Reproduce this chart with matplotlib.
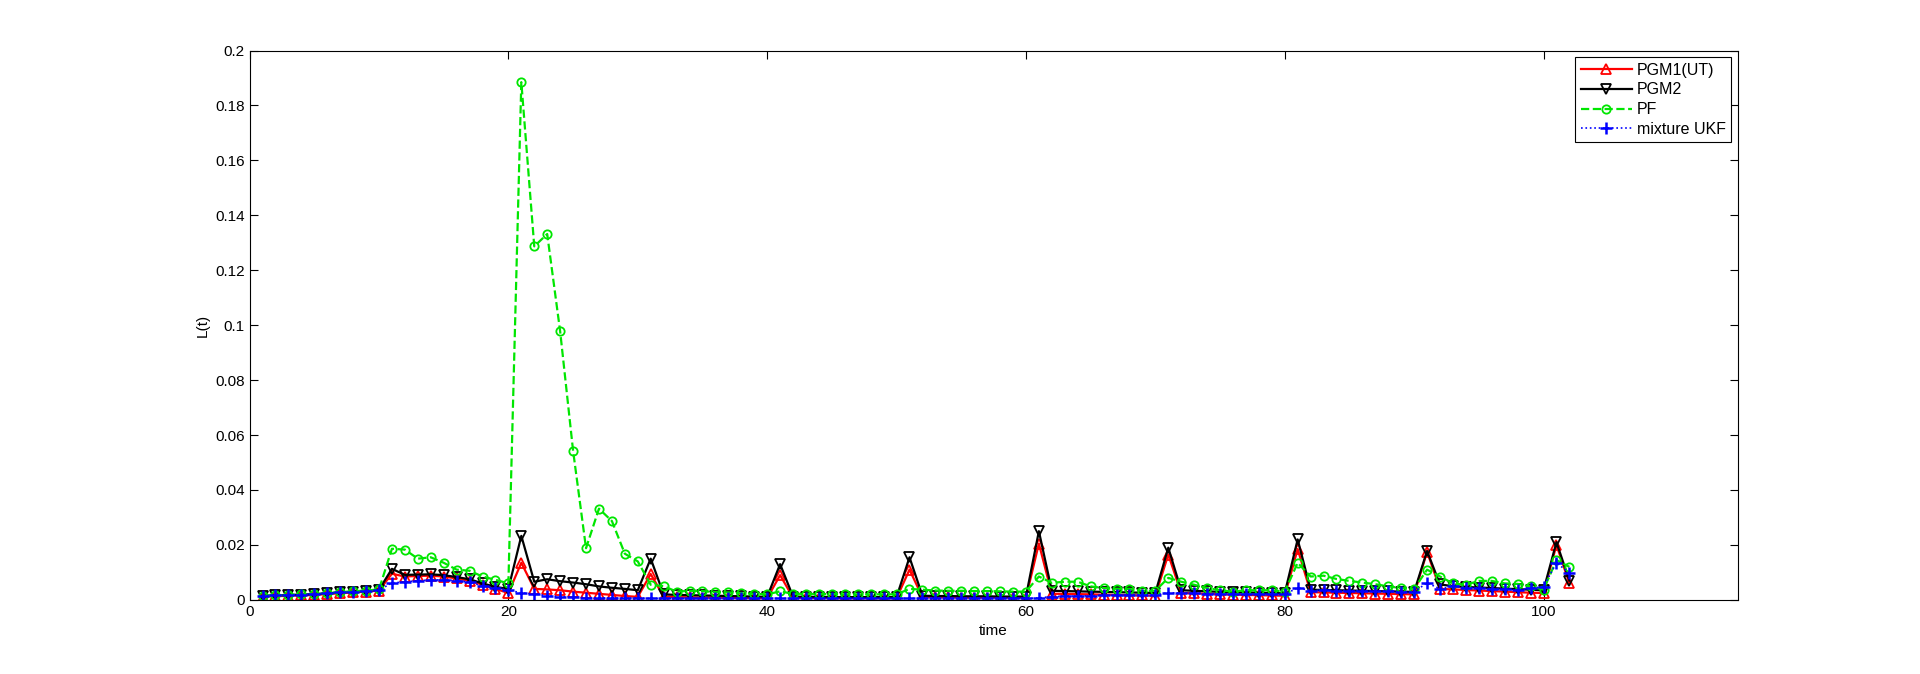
import numpy as np
import matplotlib.pyplot as plt

plt.rcParams['font.family'] = ['Liberation Sans', 'DejaVu Sans']

t = np.arange(1, 103)

pgm1 = [0.0012, 0.0013, 0.0015, 0.0016, 0.0018, 0.0021, 0.0024, 0.0027, 0.0030, 0.0034,
        0.0095, 0.0085, 0.0087, 0.0088, 0.0085, 0.0078, 0.0070, 0.0055, 0.0040, 0.0025,
        0.0135, 0.0040, 0.0038, 0.0035, 0.0030, 0.0026, 0.0022, 0.0018, 0.0014, 0.0011,
        0.0094, 0.0012, 0.0010, 0.0009, 0.0008, 0.0008, 0.0007, 0.0007, 0.0006, 0.0006,
        0.0090, 0.0008, 0.0007, 0.0007, 0.0006, 0.0006, 0.0006, 0.0006, 0.0006, 0.0006,
        0.0110, 0.0010, 0.0009, 0.0009, 0.0008, 0.0008, 0.0008, 0.0008, 0.0008, 0.0008,
        0.0205, 0.0022, 0.0022, 0.0021, 0.0020, 0.0019, 0.0018, 0.0017, 0.0016, 0.0015,
        0.0165, 0.0025, 0.0024, 0.0022, 0.0020, 0.0019, 0.0018, 0.0017, 0.0016, 0.0015,
        0.0185, 0.0028, 0.0027, 0.0026, 0.0025, 0.0024, 0.0023, 0.0022, 0.0021, 0.0020,
        0.0175, 0.0040, 0.0038, 0.0036, 0.0034, 0.0032, 0.0030, 0.0028, 0.0026, 0.0025,
        0.0200, 0.0060]

pgm2 = [0.0015, 0.0016, 0.0018, 0.0019, 0.0021, 0.0024, 0.0027, 0.0030, 0.0033, 0.0037,
        0.0113, 0.0091, 0.0092, 0.0093, 0.0090, 0.0083, 0.0075, 0.0060, 0.0047, 0.0040,
        0.0233, 0.0066, 0.0075, 0.0068, 0.0063, 0.0057, 0.0049, 0.0044, 0.0040, 0.0035,
        0.0150, 0.0020, 0.0018, 0.0017, 0.0016, 0.0015, 0.0014, 0.0013, 0.0012, 0.0011,
        0.0130, 0.0012, 0.0011, 0.0011, 0.0010, 0.0010, 0.0010, 0.0010, 0.0010, 0.0010,
        0.0155, 0.0015, 0.0014, 0.0014, 0.0013, 0.0013, 0.0013, 0.0012, 0.0012, 0.0012,
        0.0250, 0.0033, 0.0032, 0.0031, 0.0030, 0.0029, 0.0028, 0.0027, 0.0026, 0.0025,
        0.0190, 0.0035, 0.0033, 0.0031, 0.0029, 0.0028, 0.0027, 0.0026, 0.0025, 0.0024,
        0.0220, 0.0037, 0.0036, 0.0035, 0.0034, 0.0033, 0.0032, 0.0031, 0.0030, 0.0029,
        0.0178, 0.0056, 0.0050, 0.0047, 0.0045, 0.0043, 0.0041, 0.0039, 0.0037, 0.0035,
        0.0210, 0.0070]

pf = [0.0015, 0.0016, 0.0018, 0.0020, 0.0022, 0.0025, 0.0028, 0.0031, 0.0034, 0.0038,
      0.0186, 0.0183, 0.0150, 0.0155, 0.0135, 0.0110, 0.0106, 0.0085, 0.0073, 0.0060,
      0.1885, 0.1287, 0.1332, 0.0978, 0.0543, 0.0188, 0.0332, 0.0287, 0.0168, 0.0140,
      0.0055, 0.0050, 0.0030, 0.0033, 0.0032, 0.0028, 0.0027, 0.0024, 0.0022, 0.0020,
      0.0031, 0.0022, 0.0022, 0.0021, 0.0021, 0.0020, 0.0020, 0.0020, 0.0020, 0.0020,
      0.0040, 0.0037, 0.0034, 0.0033, 0.0033, 0.0032, 0.0032, 0.0031, 0.0030, 0.0030,
      0.0085, 0.0062, 0.0066, 0.0066, 0.0049, 0.0043, 0.0040, 0.0040, 0.0033, 0.0033,
      0.0080, 0.0066, 0.0055, 0.0043, 0.0035, 0.0030, 0.0035, 0.0035, 0.0035, 0.0030,
      0.0135, 0.0085, 0.0088, 0.0076, 0.0069, 0.0063, 0.0057, 0.0049, 0.0043, 0.0040,
      0.0110, 0.0085, 0.0060, 0.0055, 0.0069, 0.0069, 0.0060, 0.0058, 0.0049, 0.0037,
      0.0145, 0.0120]

ukf = [0.0015, 0.0016, 0.0018, 0.0019, 0.0021, 0.0024, 0.0027, 0.0029, 0.0032, 0.0035,
       0.0062, 0.0065, 0.0070, 0.0072, 0.0073, 0.0070, 0.0065, 0.0050, 0.0043, 0.0036,
       0.0025, 0.0022, 0.0015, 0.0012, 0.0010, 0.0008, 0.0007, 0.0006, 0.0006, 0.0006,
       0.0005, 0.0005, 0.0005, 0.0005, 0.0005, 0.0005, 0.0005, 0.0005, 0.0005, 0.0005,
       0.0005, 0.0005, 0.0005, 0.0005, 0.0005, 0.0005, 0.0005, 0.0005, 0.0005, 0.0005,
       0.0005, 0.0005, 0.0005, 0.0005, 0.0005, 0.0005, 0.0005, 0.0005, 0.0005, 0.0005,
       0.0007, 0.0012, 0.0013, 0.0014, 0.0015, 0.0016, 0.0017, 0.0018, 0.0018, 0.0018,
       0.0026, 0.0025, 0.0024, 0.0023, 0.0022, 0.0022, 0.0021, 0.0021, 0.0020, 0.0020,
       0.0044, 0.0034, 0.0035, 0.0034, 0.0034, 0.0033, 0.0032, 0.0031, 0.0030, 0.0029,
       0.0062, 0.0040, 0.0050, 0.0045, 0.0043, 0.0040, 0.0038, 0.0036, 0.0042, 0.0048,
       0.0135, 0.0098]

series_names = ['PGM1(UT)', 'PGM2', 'PF', 'mixture UKF']
yticks = [0, 0.02, 0.04, 0.06, 0.08, 0.1, 0.12, 0.14, 0.16, 0.18, 0.2]
ytick_labels = ['0', '0.02', '0.04', '0.06', '0.08', '0.1', '0.12', '0.14', '0.16', '0.18', '0.2']
xticks = [0, 20, 40, 60, 80, 100]

fig = plt.figure(figsize=(19.2, 6.74), dpi=100)
ax = fig.add_axes([0.13, 0.11, 0.775, 0.815])

ax.plot(t, pgm1, '-^', color='red', lw=1.6, ms=7, mfc='none', mew=1.3, label=series_names[0])
ax.plot(t, pgm2, '-v', color='black', lw=1.6, ms=7, mfc='none', mew=1.3, label=series_names[1])
ax.plot(t, pf, '--o', color='#00e600', lw=1.6, ms=6, mfc='none', mew=1.3, label=series_names[2])
ax.plot(t, ukf, ':+', color='#0000ff', lw=1.2, ms=8, mew=1.8, label=series_names[3])

ax.set_xlim(0, 115)
ax.set_ylim(0, 0.2)
ax.set_xticks(xticks)
ax.set_yticks(yticks)
ax.set_yticklabels(ytick_labels)
ax.tick_params(direction='in', top=True, right=True, length=6, labelsize=11, width=0.8)
for s in ax.spines.values():
    s.set_linewidth(0.8)

ax.set_xlabel('time', fontsize=11)
ax.set_ylabel('L(t)', fontsize=11)

leg = ax.legend(loc='upper right', fontsize=11.5, fancybox=False, framealpha=1,
                edgecolor='black', handlelength=3.2, borderpad=0.35, labelspacing=0.3,
                handletextpad=0.3, borderaxespad=0.4)
leg.get_frame().set_linewidth(0.8)

fig.savefig('out.png', dpi=100)
